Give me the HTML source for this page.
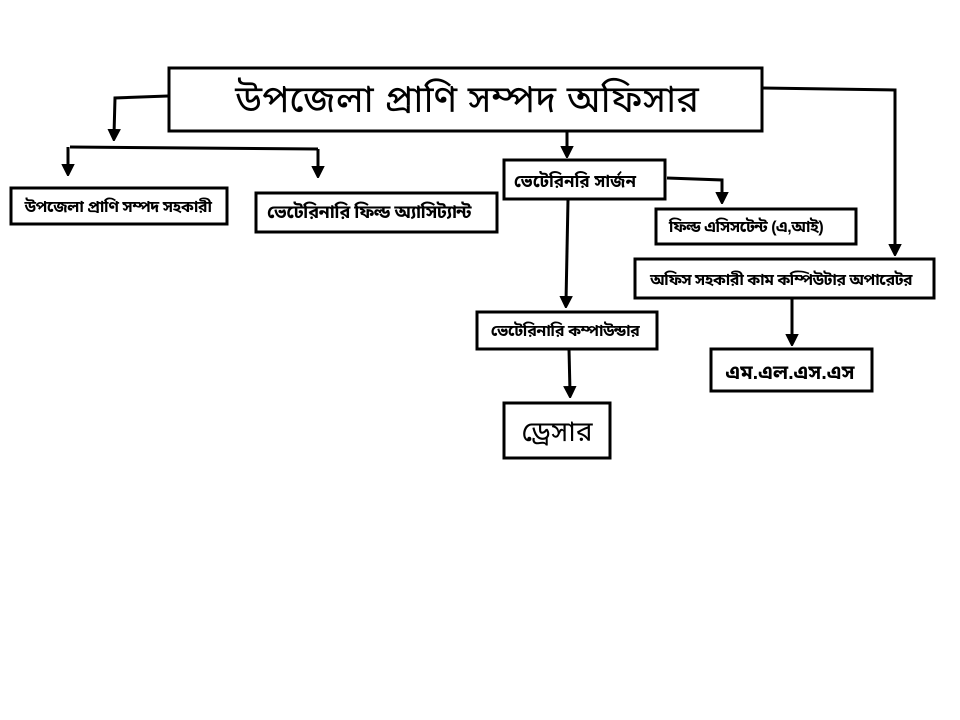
<!DOCTYPE html>
<html><head><meta charset="utf-8"><style>
html,body{margin:0;padding:0;background:#fff;width:960px;height:720px;overflow:hidden}
svg{display:block}
text{font-family:"Liberation Sans","Noto Sans Bengali","Lohit Bengali","Noto Sans CJK SC",sans-serif;fill:#000}
</style></head><body>
<svg width="960" height="720" viewBox="0 0 960 720" xmlns="http://www.w3.org/2000/svg">
<defs>
<marker id="a" markerWidth="4" markerHeight="4.5" refX="2" refY="2.25" orient="auto" markerUnits="strokeWidth">
<path d="M0,0 L4.5,2.25 L0,4.5 z" fill="#000"/></marker>
</defs>
<g fill="#fff" stroke="#000" stroke-width="3">
<rect x="169" y="68" width="593" height="63"/>
<rect x="11" y="188" width="216" height="36"/>
<rect x="256" y="193" width="241" height="39"/>
<rect x="504" y="160" width="161" height="39"/>
<rect x="656" y="209" width="200" height="35"/>
<rect x="635" y="259" width="299" height="39"/>
<rect x="477" y="312" width="180" height="37"/>
<rect x="711" y="349" width="161" height="42"/>
<rect x="504" y="403" width="106" height="55"/>
</g>
<g fill="none" stroke="#000" stroke-width="3">
<path d="M168,96 L115,98 L114,135" marker-end="url(#a)"/>
<path d="M70,147 L318,149"/>
<path d="M68,147 L68,170" marker-end="url(#a)"/>
<path d="M318,149 L318,172" marker-end="url(#a)"/>
<path d="M567,131 L567,152" marker-end="url(#a)"/>
<path d="M667,178 L722,180 L722,198" marker-end="url(#a)"/>
<path d="M762,88 L895,90 L895,250" marker-end="url(#a)"/>
<path d="M568,200 L566,302" marker-end="url(#a)"/>
<path d="M792,298 L792,340" marker-end="url(#a)"/>
<path d="M569,349 L570,392" marker-end="url(#a)"/>
</g>
<g font-weight="bold">
<text x="467" y="112" font-size="38" font-weight="normal" text-anchor="middle">উপজেলা প্রাণি সম্পদ অফিসার</text>
<text x="118" y="212" font-size="16" text-anchor="middle" letter-spacing="-0.5">উপজেলা প্রাণি সম্পদ সহকারী</text>
<text x="369" y="218" font-size="18" text-anchor="middle" letter-spacing="-0.5">ভেটেরিনারি ফিল্ড অ্যাসিট্যান্ট</text>
<text x="575" y="187" font-size="17" text-anchor="middle">ভেটেরিনরি সার্জন</text>
<text x="746" y="232" font-size="16" text-anchor="middle" letter-spacing="-0.5">ফিল্ড এসিসটেন্ট (এ,আই)</text>
<text x="781" y="285" font-size="16" text-anchor="middle" letter-spacing="-0.6">অফিস সহকারী কাম কম্পিউটার অপারেটর</text>
<text x="565" y="336" font-size="16" text-anchor="middle" letter-spacing="-0.5">ভেটেরিনারি কম্পাউন্ডার</text>
<text x="790" y="379" font-size="20" text-anchor="middle">এম.এল.এস.এস</text>
<text x="557" y="441" font-size="28" font-weight="normal" text-anchor="middle">ড্রেসার</text>
</g>
</svg>
</body></html>
